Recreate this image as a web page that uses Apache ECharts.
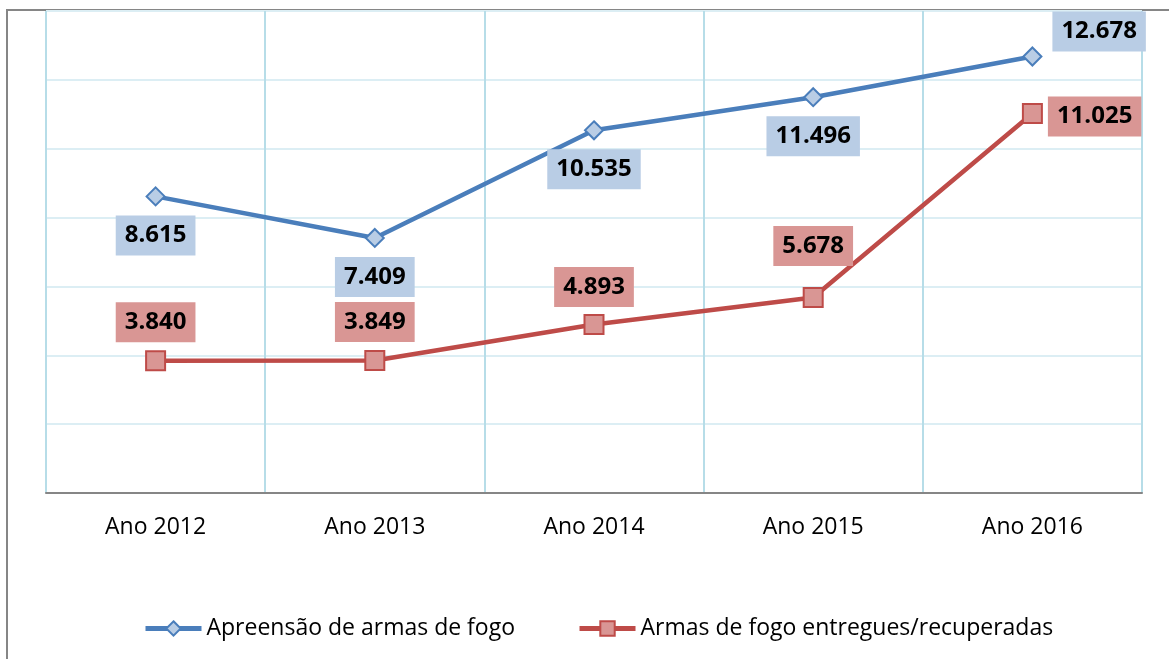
<!DOCTYPE html>
<html>
<head>
<meta charset="utf-8">
<title>Armas de fogo</title>
<script src="https://cdn.jsdelivr.net/npm/echarts@6/dist/echarts.min.js"></script>
<style>
  html, body { margin: 0; padding: 0; background: #fff; }
  #main { width: 1169px; height: 659px; }
</style>
</head>
<body>
<div id="main"></div>
<script>
// dados do grafico
var anos = ['Ano 2012', 'Ano 2013', 'Ano 2014', 'Ano 2015', 'Ano 2016'];
var apreensao = [8615, 7409, 10535, 11496, 12678];
var entregues = [3840, 3849, 4893, 5678, 11025];
var nomes = ['Apreensão de armas de fogo', 'Armas de fogo entregues/recuperadas'];

// posicao dos rotulos (como ajustado no original)
var posAzul = [
    { position: 'bottom', distance: 9 },
    { position: 'bottom', distance: 9 },
    { position: 'bottom', distance: 9 },
    { position: 'bottom', distance: 9 },
    { position: 'right', distance: 10, offset: [0, -25] }
];
var posVermelho = [
    { position: 'top', distance: 8 },
    { position: 'top', distance: 8 },
    { position: 'top', distance: 7 },
    { position: 'top', distance: 7, offset: [0, -14] },
    { position: 'right', distance: 5, offset: [0, 3] }
];

function fmt(v) {
    return (v / 1000).toFixed(3);
}

function montar(valores, pos) {
    return valores.map(function (v, i) {
        return { value: v, label: pos[i] };
    });
}

var myChart = echarts.init(document.getElementById('main'));

var rotulo = {
    show: true,
    color: '#000',
    fontFamily: 'Open Sans',
    fontWeight: 'bold',
    fontSize: 24,
    lineHeight: 30,
    padding: [5, 9],
    formatter: function (p) { return fmt(p.value); }
};

var option = {
    animation: false,
    textStyle: { fontFamily: 'Open Sans' },
    graphic: [{
        type: 'rect',
        shape: { x: 7, y: 10, width: 1300, height: 800 },
        style: { fill: 'none', stroke: '#868686', lineWidth: 2 },
        z: -1
    }],
    grid: { left: 46, right: 27, top: 11, bottom: 166 },
    legend: {
        left: 143,
        top: 617,
        padding: 0,
        itemWidth: 56,
        itemHeight: 18,
        itemGap: 62,
        itemTextGap: 4,
        lineStyle: { width: 5 },
        textStyle: { fontSize: 23, color: '#000', fontFamily: 'Open Sans' },
        data: nomes
    },
    xAxis: {
        type: 'category',
        data: anos,
        boundaryGap: true,
        axisLine: { lineStyle: { color: '#868686', width: 2 } },
        axisTick: { length: 8, lineStyle: { color: '#868686', width: 2 } },
        axisLabel: { fontSize: 23, color: '#000', margin: 23 },
        splitLine: { show: true, lineStyle: { color: '#B7DDE8', width: 2 } }
    },
    yAxis: {
        type: 'value',
        min: 0,
        max: 14000,
        interval: 2000,
        axisLine: { show: false },
        axisTick: { show: false },
        axisLabel: { show: false },
        splitLine: { lineStyle: { color: '#DCEEF4', width: 2 } }
    },
    series: [{
        name: nomes[0],
        type: 'line',
        data: montar(apreensao, posAzul),
        symbol: 'diamond',
        symbolSize: 18,
        lineStyle: { color: '#4A7EBB', width: 4.5 },
        itemStyle: { color: '#B9CDE5', borderColor: '#4A7EBB', borderWidth: 2 },
        label: Object.assign({ backgroundColor: '#B9CDE5' }, rotulo)
    }, {
        name: nomes[1],
        type: 'line',
        data: montar(entregues, posVermelho),
        symbol: 'rect',
        symbolSize: 19,
        lineStyle: { color: '#BE4B48', width: 4.5 },
        itemStyle: { color: '#D99694', borderColor: '#BE4B48', borderWidth: 2 },
        label: Object.assign({ backgroundColor: '#D99694' }, rotulo)
    }]
};

myChart.setOption(option);
</script>
</body>
</html>
